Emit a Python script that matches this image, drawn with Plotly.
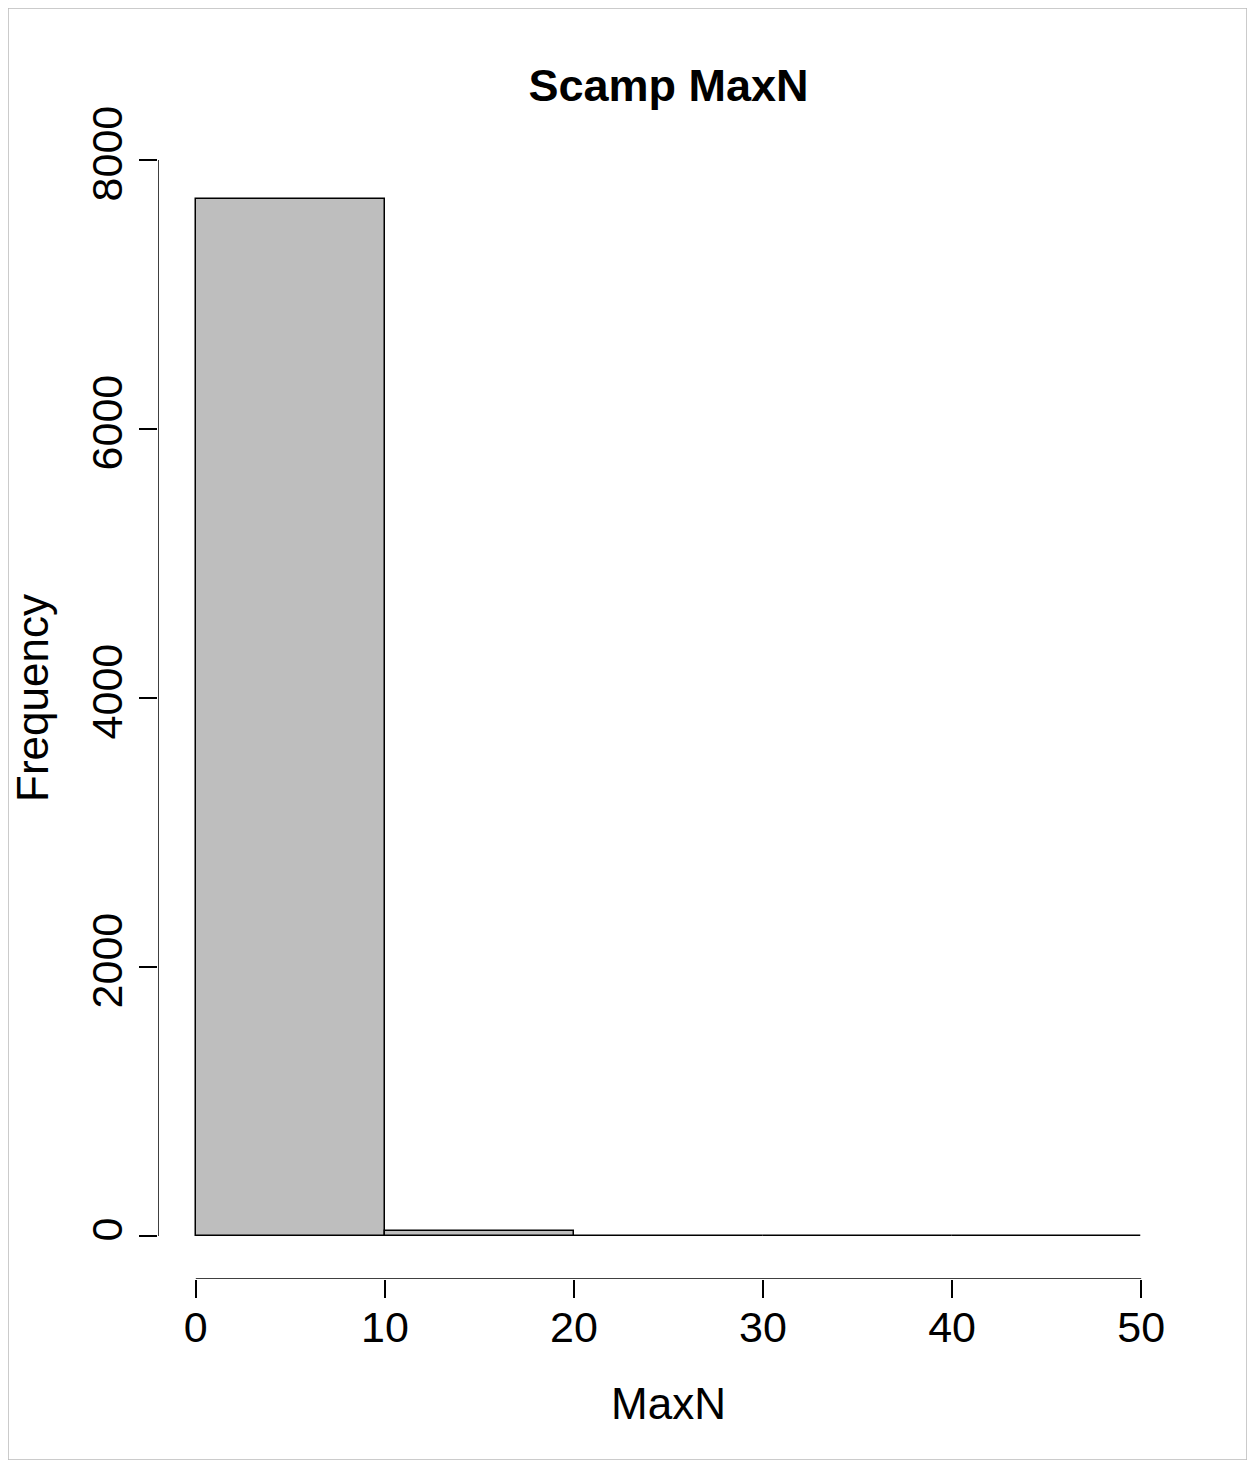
import plotly.graph_objects as go

bin_centers = [5, 15, 25, 35, 45]
counts = [7710, 37, 3, 1, 1]
x_ticks = [0, 10, 20, 30, 40, 50]
y_ticks = [0, 2000, 4000, 6000, 8000]

L, R, T, B = 150, 84, 109, 189
W, H = 1255, 1460
pw, ph = W - L - R, H - T - B

fig = go.Figure(go.Bar(x=bin_centers, y=counts, width=10,
                       marker=dict(color="#bebebe", line=dict(color="black", width=1.5))))
font = dict(family="Liberation Sans, Arial", size=43, color="black")
fig.update_layout(
    width=W, height=H, plot_bgcolor="white", paper_bgcolor="white",
    margin=dict(l=L, r=R, t=T, b=B), showlegend=False, bargap=0,
    font=font,
    title=dict(text="<b>Scamp MaxN</b>", x=(L + pw / 2) / W, xanchor="center",
               y=1 - 77 / H, yanchor="middle", font=dict(size=45)),
    xaxis=dict(range=[-2, 52], tickvals=x_ticks, ticks="outside", ticklen=18,
               tickwidth=1.5, tickcolor="black", showgrid=False, zeroline=False,
               ticklabelstandoff=-8,
               showline=False, title=dict(text="MaxN", standoff=38, font=dict(size=44))),
    yaxis=dict(range=[-320, 8320], tickvals=y_ticks, ticks="outside", ticklen=18,
               tickwidth=1.5, tickcolor="black", showgrid=False, zeroline=False,
               showline=False, tickangle=-90, title=dict(text="Frequency", standoff=30, font=dict(size=44))),
)
fig.add_shape(type="line", x0=0, x1=50, y0=-320, y1=-320, line=dict(color="black", width=1.5))
fig.add_shape(type="line", x0=-2, x1=-2, y0=0, y1=8000, line=dict(color="black", width=1.5))
fig.add_shape(type="rect", xref="paper", yref="paper", x0=-L / pw, x1=(1239 - L) / pw,
              y0=-(1452 - (T + ph)) / ph, y1=1 + T / ph, line=dict(color="#bbbbbb", width=1.5), layer="below")
fig.write_html("out.html")
